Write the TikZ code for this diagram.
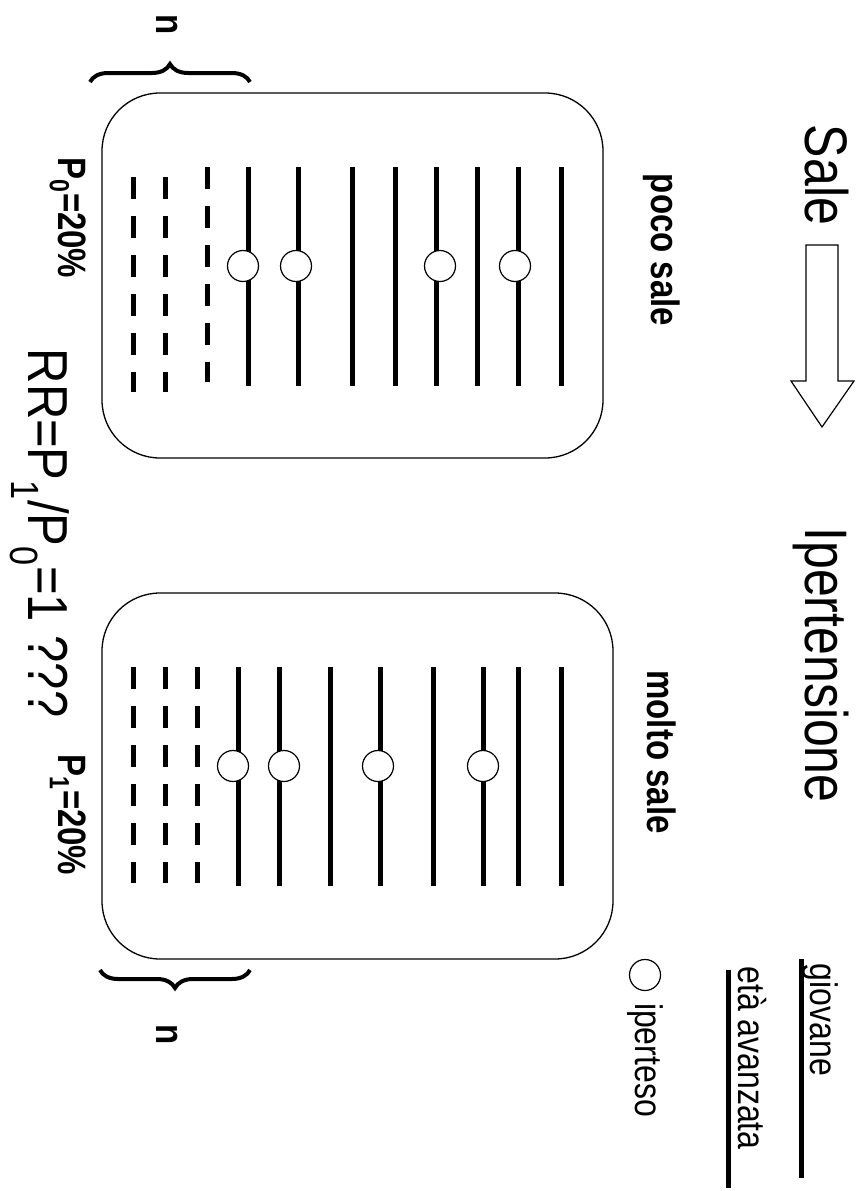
\documentclass[tikz,border=0pt]{standalone}
\usepackage{fontspec}
\setmainfont{Liberation Sans}
\usetikzlibrary{decorations.pathreplacing}
\begin{document}
\begin{tikzpicture}[x=1pt,y=-1pt,
  rbox/.style={line width=1.3pt,rounded corners=58pt},
  solidline/.style={line width=5pt},
  dashline/.style={line width=5pt,dash pattern=on 22pt off 17pt},
  hyp/.style={circle,draw,line width=1.2pt,fill=white,minimum size=31pt,inner sep=0pt},
  rot/.style={rotate=-90,yscale=1.2,inner sep=0pt},
  big/.style={rot,font=\fontsize{50}{60}\selectfont},
  bold/.style={rot,font=\fontsize{33}{40}\selectfont\bfseries},
  leg/.style={rot,font=\fontsize{32}{38}\selectfont},
  brace/.style={decorate,decoration={brace,amplitude=18pt},line width=4pt}]
\useasboundingbox (0,0) rectangle (865,1191);
% titles
\node[big] (sale) at (827,175) {Sale};
\node[big] (iper) at (821,665) {Ipertensione};
\draw[line width=1.2pt] (806,245) -- (838,245) -- (838,381) -- (854,381) -- (822,427) -- (791,381) -- (806,381) -- cycle;
% boxes
\draw[rbox] (102,93) rectangle (603,458);
\draw[rbox] (102,593) rectangle (613,959);
\node[bold] (poco) at (662,250) {poco sale};
\node[bold] (molto) at (662,752) {molto sale};
% box 1 lines
\foreach \x in {248,298,352,395,436,477,518,561} \draw[solidline] (\x,167) -- (\x,386);
\foreach \x in {133,165} \draw[dashline] (\x,177) -- (\x,392);
\draw[dashline] (207,167) -- (207,382);
\node[hyp] (c1) at (243,266) {};
\node[hyp] (c2) at (296,266) {};
\node[hyp] (c3) at (440,266) {};
\node[hyp] (c4) at (515,266) {};
% box 2 lines
\foreach \x in {238,279,330,380,433,483,518,561} \draw[solidline] (\x,667) -- (\x,886);
\foreach \x in {133,165,197} \draw[dashline] (\x,667) -- (\x,883);
\node[hyp] (d1) at (233,766) {};
\node[hyp] (d2) at (284,766) {};
\node[hyp] (d3) at (378,766) {};
\node[hyp] (d4) at (483,766) {};
% P labels
\node[bold] (p0) at (68,218) {P\textsubscript{0}=20\%};
\node[bold] (p1) at (68,815) {P\textsubscript{1}=20\%};
% braces
\coordinate (b1a) at (250,82);
\coordinate (b1b) at (90,82);
\draw[brace] (b1b) -- (b1a);
\node[bold] (n1) at (167,25) {n};
\coordinate (b2a) at (250,970);
\coordinate (b2b) at (100,970);
\draw[brace] (b2a) -- (b2b);
\node[bold] (n2) at (167,1035) {n};
% RR
\node[rotate=-90,yscale=1.15,inner sep=0pt,font=\fontsize{49}{60}\selectfont] (rr) at (40,533) {RR=P\textsubscript{1}/P\textsubscript{0}=1 ???};
% legend
\node[leg] (giov) at (820,1020) {giovane};
\draw[solidline] (801,959) -- (801,1178);
\node[leg] (eta) at (752,1058) {età avanzata};
\draw[solidline] (728,970) -- (728,1188);
\node[hyp] (lc) at (645,975) {};
\node[leg] (ip) at (645,1060) {iperteso};
\end{tikzpicture}
\end{document}
